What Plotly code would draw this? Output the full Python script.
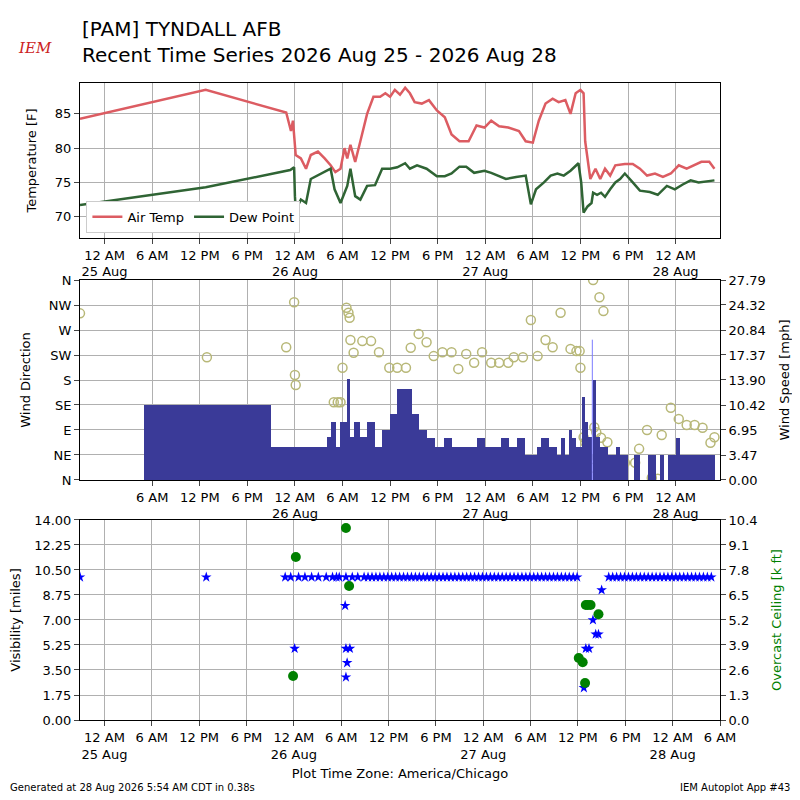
import plotly.graph_objects as go
import pandas as pd

BASE = pd.Timestamp("2026-08-25 00:00")
def T(hs): return [BASE + pd.Timedelta(hours=h) for h in hs]

temp_h = [-3.1,12.75,22.9,23.5,23.75,24.1,24.75,25.4,26,26.9,27.75,28.5,29.1,29.75,30.25,30.6,31,31.6,32.25,33.1,33.9,34.75,35.4,36,36.6,37.25,37.9,38.5,39.1,40,40.9,41.9,42.9,43.75,44.75,45.9,46.9,47.9,48.75,49.75,50.9,52.25,53.1,54,54.75,55.6,56.5,57.25,58.1,58.75,59.4,60,60.4,60.6,61.25,61.9,62.5,63.1,63.75,64.4,65.6,66.6,67.5,68.4,69.4,70.4,71.4,72.4,73.4,74.4,75.25,76.25,76.9]
temp_v = [84.3,88.5,85.2,82.5,84,79,78.5,77,79,79.5,78.5,77.5,76.5,77,80,78.5,80.5,78,81,85,87.5,87.5,88,87.5,88.5,87.8,88.8,88,86.7,86.5,87,85.5,84.5,82,81,81,83.3,83,84,83.2,83,82.5,81,80.8,84,86.5,87.2,86.7,87,85,88,88.5,88,81,75.5,77,75.5,77,76,77.5,77.7,77.7,77,76,76.3,75.8,76.3,77.5,77,77.5,78,78,77]
dew_h = [-3.1,12.75,23.4,23.9,24,24.1,24.75,25.4,26,26.9,27.75,28.5,29,29.75,30.6,31,31.6,32.25,33.1,34.1,35,36,36.9,37.9,38.5,39.4,40.6,41.9,42.9,43.75,44.75,45.6,46.6,47.9,48.75,49.75,50.6,51.9,53.1,53.75,54.4,55.4,56.25,57.1,57.9,58.75,59.4,59.75,60.1,60.4,60.9,61.4,61.6,62.1,62.6,63.1,63.75,64.4,65,65.6,66.6,67.5,68.75,69.75,70.9,71.9,72.9,73.9,74.9,75.9,76.9]
dew_v = [71.7,74.3,76.8,77.2,73,71,72.5,72,75.5,76,76.5,77,74,72,74.5,77,73,72.5,74.5,74.6,77,77,77.2,77.8,77,77.5,77,75.9,75.9,76.3,77.3,77.3,76.4,76.7,76.4,75.9,75.5,75.8,76,71.8,74,75,76,76.3,76,76.7,77.5,77.8,75,70.6,71.5,72,73.5,73.2,73.5,72.9,74,75,75.5,76.3,75,73.8,73.6,73.2,74.5,74,74.7,75.3,75,75.1,75.3]

# wind speed segments: start hour, end hour, mph
ws_start = [5,21,28,28.6,29.2,29.7,30.6,30.9,31.5,32.2,33.1,34.1,35,36,36.9,38.8,39.6,40.6,41.6,42.8,43.8,47,48,50,51,52,53,54.5,55,56,57,57.5,58,58.5,59,59.5,60.2,60.6,61,61.6,62,62.5,63.5,64.5,65,66.7,68.5,70,71,72,72.5]
ws_end   = [21,28,28.6,29.2,29.7,30.6,30.9,31.5,32.2,33.1,34.1,35,36,36.9,38.8,39.6,40.6,41.6,42.8,43.8,47,48,50,51,52,53,54.5,55,56,57,57.5,58,58.5,59,59.5,60.2,60.6,61,61.4,62,62.5,63.5,64.5,65,66,67.5,69.5,70.5,72,72.5,77]
ws_mph   = [10.4,4.6,6,8,4.6,8,14,6,8,6,8,4.6,6.9,9.2,12.7,9.2,6.9,5.8,4.6,5.8,4.6,5.8,4.6,5.8,4.6,5.8,3.5,4.6,5.8,4.6,3.5,5.8,3.5,6.9,5.8,4.6,11.5,8,6,13.9,6,4.6,3.5,4.6,3.5,3.5,3.5,3.5,3.5,5.8,3.5]
gust_h = [61.5]
gust_mph = [19.5]

dir_h = [-3.1,12.9,22.9,23.6,23.9,24.0,24.1,24.6,25.4,26.25,27.1,28.1,28.9,29.4,29.75,30,30.5,30.75,30.9,31,31.4,32.5,33.6,34.6,35.9,36.9,38,38.6,39.6,40.6,41.5,42.6,43.75,44.6,45.6,46.6,47.6,48.75,49.75,50.9,51.6,52.75,53.75,54.6,55.6,56.5,57.5,58.75,59.5,59.9,60,60.4,60.6,61,61.4,61.6,61.75,62,62.4,62.6,62.9,63.4,64,64.5,65.6,66.9,67.4,68.4,69,69.75,70.25,71.4,72.4,73.4,74.4,75.4,76.4,76.9]
dir_v = [300,221,239,11,320,189,171,4,2,2,2,5,140,140,140,202,310,301,292,252,229,250,250,230,202,202,202,238,263,248,223,230,230,200,227,211,230,211,211,211,221,221,288,223,252,239,301,236,232,232,202,77,68,41,22,360,95,86,329,76,304,68,32,31,31,31,56,90,4,2,81,130,110,99,99,94,67,77]

vis_h = [-3.1,12.9,22.9,23.6,24.6,25.4,26.25,27.1,28.1,28.9,29.4,29.75,30.6,31.4,32.1,32.9,33.4,33.9,34.4,34.9,35.4,35.9,36.4,36.9,37.4,37.9,38.4,38.9,39.4,39.9,40.4,40.9,41.4,41.9,42.4,42.9,43.4,43.9,44.4,44.9,45.4,45.9,46.4,46.9,47.4,47.9,48.4,48.9,49.4,49.9,50.4,50.9,51.4,51.9,52.4,52.9,53.4,53.9,54.4,54.9,55.4,55.9,56.4,56.9,57.4,57.9,58.4,58.9,59.4,59.9,63.9,64.4,64.9,65.4,65.9,66.4,66.9,67.4,67.9,68.4,68.9,69.4,69.9,70.4,70.9,71.4,71.9,72.4,72.9,73.4,73.9,74.4,74.9,75.4,75.9,76.4,76.9,
         24.1,30.5,30.6,30.75,30.6,31.1,60.75,61,61.4,61.9,62.25,62.6,63]
vis_v = [10]*97 + [5,8,5,4,3,5,2.25,5,5,7,6,6,9.1]

ceil_h = [23.9,24.25,30.6,31,60.1,60.6,60.9,61,61.25,61.6,62.6]
ceil_kft = [2.29,8.48,9.98,6.97,3.22,3.0,1.92,5.98,5.98,5.98,5.5]

fig = go.Figure()
fig.add_trace(go.Scatter(x=T(temp_h), y=temp_v, mode="lines", name="Air Temp", line=dict(color="#dc5c62", width=2.5), xaxis="x", yaxis="y"))
fig.add_trace(go.Scatter(x=T(dew_h), y=dew_v, mode="lines", name="Dew Point", line=dict(color="#2f6434", width=2.5), xaxis="x", yaxis="y"))

mids = [BASE + pd.Timedelta(hours=(a+b)/2) for a, b in zip(ws_start, ws_end)]
widths = [(b-a)*3600*1000 for a, b in zip(ws_start, ws_end)]
fig.add_trace(go.Bar(x=mids, y=ws_mph, width=widths, marker=dict(color="#3a3a98", line=dict(width=0)), showlegend=False, xaxis="x2", yaxis="y3"))
for h, g in zip(gust_h, gust_mph):
    fig.add_trace(go.Scatter(x=T([h, h]), y=[0, g], mode="lines", line=dict(color="#7b7bff", width=1), showlegend=False, xaxis="x2", yaxis="y3"))
fig.add_trace(go.Scatter(x=T(dir_h), y=dir_v, mode="markers", marker=dict(symbol="circle-open", size=9, color="#b8b878", line=dict(width=1.5)), showlegend=False, xaxis="x2", yaxis="y2"))

fig.add_trace(go.Scatter(x=T(vis_h), y=vis_v, mode="markers", marker=dict(symbol="star", size=8, color="#0000ff"), showlegend=False, xaxis="x3", yaxis="y4"))
fig.add_trace(go.Scatter(x=T(ceil_h), y=ceil_kft, mode="markers", marker=dict(symbol="circle", size=10, color="#008000"), showlegend=False, xaxis="x3", yaxis="y5"))

r0 = BASE + pd.Timedelta(hours=-3.1)
r1 = BASE + pd.Timedelta(hours=77.6)
r1b = BASE + pd.Timedelta(hours=78.0)
tv, tt = [], []
for i in range(14):
    t = BASE + pd.Timedelta(hours=6*i)
    lab = {0: "12 AM", 6: "6 AM", 12: "12 PM", 18: "6 PM"}[t.hour]
    if t.hour == 0:
        lab += "<br>" + f"{t.day} Aug"
    tv.append(t); tt.append(lab)
F = "DejaVu Sans"
gc = "#b0b0b0"
ax = dict(showgrid=True, gridcolor=gc, showline=True, linecolor="black", mirror=True, ticks="outside", tickfont=dict(size=13, color="black"), zeroline=False, automargin=False)
yb = dict(showgrid=True, gridcolor=gc, showline=True, linecolor="black", mirror=True, ticks="outside", zeroline=False, automargin=False)
yr = dict(showgrid=False, ticks="outside", zeroline=False, automargin=False)
fig.update_layout(
    width=800, height=800, margin=dict(l=72, r=88, t=75, b=88, autoexpand=False),
    paper_bgcolor="white", plot_bgcolor="white", font=dict(family=F, size=13, color="black"),
    bargap=0,
    xaxis=dict(**ax, range=[r0, r1], domain=[0, 1], anchor="y", tickvals=tv[:-1], ticktext=tt[:-1]),
    xaxis2=dict(**ax, range=[r0, r1], domain=[0, 1], anchor="y2", tickvals=tv[1:-1], ticktext=tt[1:-1]),
    xaxis3=dict(**ax, range=[r0, r1b], domain=[0, 1], anchor="y4", tickvals=tv, ticktext=tt,
                title=dict(text="Plot Time Zone: America/Chicago", font=dict(size=13), standoff=8)),
    yaxis=dict(**yb, domain=[0.7567, 1], range=[66.9, 89.5], tickvals=[70, 75, 80, 85], title=dict(text="Temperature [F]", font=dict(size=13))),
    yaxis2=dict(**yb, domain=[0.3768, 0.6907], range=[0, 360], tickvals=[0, 45, 90, 135, 180, 225, 270, 315, 360], ticktext=["N", "NE", "E", "SE", "S", "SW", "W", "NW", "N"], title=dict(text="Wind Direction", font=dict(size=13))),
    yaxis3=dict(**yr, overlaying="y2", side="right", anchor="x2", range=[0, 27.79], tickvals=[0, 3.47, 6.95, 10.42, 13.9, 17.37, 20.84, 24.32, 27.79], ticktext=["0.00", "3.47", "6.95", "10.42", "13.90", "17.37", "20.84", "24.32", "27.79"], title=dict(text="Wind Speed [mph]", font=dict(size=13))),
    yaxis4=dict(**yb, domain=[0, 0.314], anchor="x3", range=[0, 14], tickvals=[0, 1.75, 3.5, 5.25, 7, 8.75, 10.5, 12.25, 14], ticktext=["0.00", "1.75", "3.50", "5.25", "7.00", "8.75", "10.50", "12.25", "14.00"], title=dict(text="Visibility [miles]", font=dict(size=13))),
    yaxis5=dict(**yr, overlaying="y4", side="right", anchor="x3", range=[0, 10.4], tickvals=[0, 1.3, 2.6, 3.9, 5.2, 6.5, 7.8, 9.1, 10.4], ticktext=["0.0", "1.3", "2.6", "3.9", "5.2", "6.5", "7.8", "9.1", "10.4"], title=dict(text="Overcast Ceiling [k ft]", font=dict(size=13, color="green"))),
    legend=dict(orientation="h", x=0.01, y=0.765, xanchor="left", yanchor="bottom", bordercolor="#cccccc", borderwidth=1, bgcolor="white", font=dict(size=13)),
)
fig.add_annotation(text="[PAM] TYNDALL AFB<br>Recent Time Series 2026 Aug 25 - 2026 Aug 28", xref="paper", yref="paper", x=0, y=1.106, xanchor="left", yanchor="top", showarrow=False, align="left", font=dict(size=20, family=F))
fig.add_annotation(text="<i>IEM</i>", xref="paper", yref="paper", x=-0.1, y=1.072, xanchor="left", showarrow=False, font=dict(size=15, family="DejaVu Serif", color="#cc2222"))
fig.add_annotation(text="Generated at 28 Aug 2026 5:54 AM CDT in 0.38s", xref="paper", yref="paper", x=-0.112, y=-0.117, xanchor="left", yanchor="bottom", showarrow=False, font=dict(size=10))
fig.add_annotation(text="IEM Autoplot App #43", xref="paper", yref="paper", x=1.112, y=-0.117, xanchor="right", yanchor="bottom", showarrow=False, font=dict(size=10))
fig.write_html("out.html")
